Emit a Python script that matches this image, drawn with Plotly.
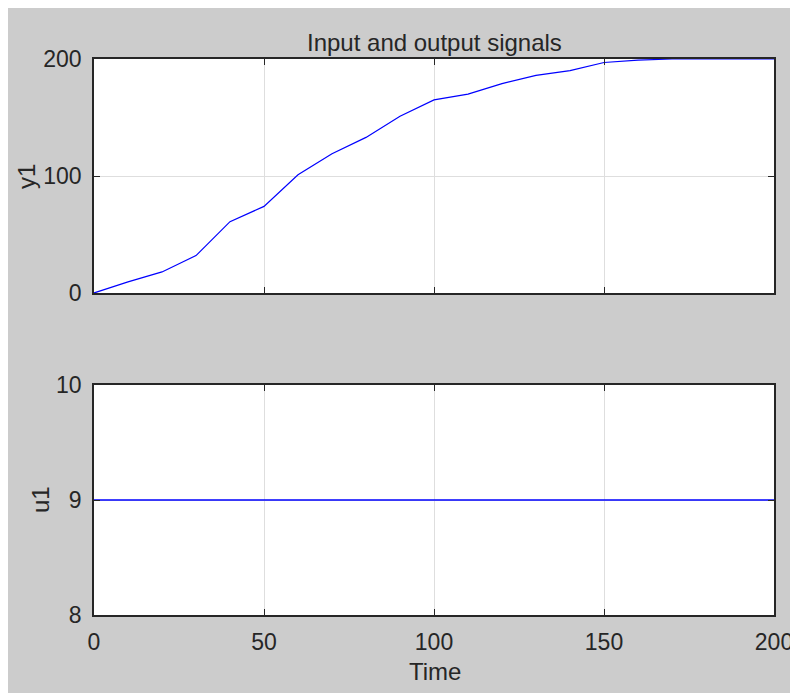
import plotly.graph_objects as go
from plotly.subplots import make_subplots

# Data
time = [0, 10, 20, 30, 40, 50, 60, 70, 80, 90, 100, 110, 120, 130, 140, 150, 160, 170, 180, 190, 200]
y1 = [0, 9.5, 18, 32, 61, 74, 101, 119, 133, 151, 165, 170, 179, 186, 190, 197, 199, 200, 200, 200, 200]
u1 = [9] * len(time)

x_ticks = [0, 50, 100, 150, 200]
y1_ticks = [0, 100, 200]
u1_ticks = [8, 9, 10]

W, H = 798, 693
OFF = 8  # page body margin
L, R, T, B = 86, 32, 51, 86
PW, PH = W - L - R, H - T - B

def px_x(p):
    return (p - OFF - L) / PW

def px_y(p):
    return (H - B - (p - OFF)) / PH

fig = make_subplots(rows=2, cols=1, shared_xaxes=False, vertical_spacing=0.05)

fig.add_trace(go.Scatter(x=time, y=y1, mode="lines",
                         line=dict(color="#0000ff", width=1.2), showlegend=False), row=1, col=1)
fig.add_trace(go.Scatter(x=time, y=u1, mode="lines",
                         line=dict(color="#0000ff", width=1.4), showlegend=False), row=2, col=1)

font_family = "Liberation Sans, Arial, sans-serif"
tick_font = dict(family=font_family, size=23, color="#262626")

axis_common = dict(
    showline=True, linecolor="#262626", linewidth=1.5, mirror="ticks",
    ticks="inside", ticklen=6, tickwidth=1, tickcolor="#262626",
    showgrid=True, gridcolor="#dedede", gridwidth=1, zeroline=False,
    tickfont=tick_font,
)

fig.update_xaxes(range=[0, 200], tickvals=x_ticks, showticklabels=False,
                 domain=[0, 1], **axis_common, row=1, col=1)
fig.update_xaxes(range=[0, 200], tickvals=x_ticks, showticklabels=True,
                 ticklabelstandoff=6, domain=[0, 1], **axis_common, row=2, col=1)
fig.update_yaxes(range=[0, 200], tickvals=y1_ticks, ticklabelstandoff=6,
                 domain=[px_y(293), 1], **axis_common, row=1, col=1)
fig.update_yaxes(range=[8, 10], tickvals=u1_ticks, ticklabelstandoff=6,
                 domain=[0, px_y(385)], **axis_common, row=2, col=1)

ann_font = dict(family=font_family, size=24, color="#262626")
fig.add_annotation(text="Input and output signals", xref="paper", yref="paper",
                   x=px_x(434), y=px_y(43), showarrow=False,
                   font=dict(family=font_family, size=24, color="#262626"),
                   xanchor="center", yanchor="middle")
fig.add_annotation(text="y1", xref="paper", yref="paper", x=px_x(26), y=px_y(177),
                   showarrow=False, textangle=-90, font=ann_font,
                   xanchor="center", yanchor="middle")
fig.add_annotation(text="u1", xref="paper", yref="paper", x=px_x(40), y=px_y(500),
                   showarrow=False, textangle=-90, font=ann_font,
                   xanchor="center", yanchor="middle")
fig.add_annotation(text="Time", xref="paper", yref="paper", x=px_x(435), y=px_y(671),
                   showarrow=False, font=ann_font, xanchor="center", yanchor="middle")

fig.update_layout(
    width=W, height=H,
    margin=dict(l=L, r=R, t=T, b=B),
    paper_bgcolor="#cccccc", plot_bgcolor="white",
    font=dict(family=font_family, color="#262626"),
)

fig.write_html("out.html")
